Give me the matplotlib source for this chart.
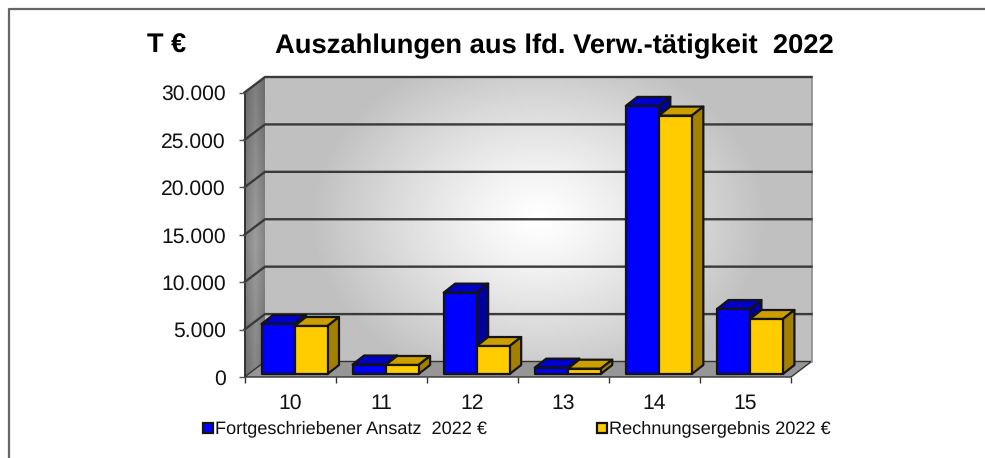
#!/usr/bin/env python3
"""Auszahlungen 2022: faux 3D bar chart drawn on a plain 2D axes."""

import matplotlib
matplotlib.use("Agg")

import matplotlib.pyplot as plt  # noqa: E402
import numpy as np  # noqa: E402
from matplotlib.patches import Polygon, Rectangle  # noqa: E402

categories = ["10", "11", "12", "13", "14", "15"]
ansatz = [5270, 1000, 8580, 670, 28270, 6850]
ergebnis = [5060, 950, 2950, 560, 27250, 5800]
y_ticks = [0, 5000, 10000, 15000, 20000, 25000, 30000]
y_labels = ["0", "5.000", "10.000", "15.000", "20.000", "25.000", "30.000"]

W, H = 985, 458
# front plane of the chart in pixels
LEFT, RIGHT, TOP, BOTTOM = 244.5, 791.0, 92.5, 377.0
PX_X = 6 / (RIGHT - LEFT)
PX_Y = 30000 / (BOTTOM - TOP)

# depth offsets, pixels converted to data units
WALL_DX, WALL_DY = 20.5 * PX_X, 15.5 * PX_Y
BASE_DX, BASE_DY = 0.5 * PX_X, 3.0 * PX_Y
BAR_DX, BAR_DY = 11.5 * PX_X, 9.0 * PX_Y
BAR_W = 33 * PX_X
BAR_START = 16.5 * PX_X

EDGE = "#141414"
BLUE = ("#0000ff", "#0000c8", "#00009c")
YELLOW = ("#ffcc00", "#cc9f00", "#a38000")

plt.rcParams["font.family"] = ["Liberation Sans", "DejaVu Sans"]
plt.rcParams["text.hinting"] = "no_hinting"


def wall_gradient(inner, outer, cx, cy, nx=220, ny=120):
    xx, yy = np.meshgrid(np.linspace(0, 1, nx), np.linspace(1, 0, ny))
    dist = np.clip(np.hypot((xx - cx) / 0.42, (yy - cy) / 0.62), 0, 1)
    return inner + (outer - inner) * dist ** 1.2


def draw_walls(ax, fig):
    # back wall
    ax.imshow(wall_gradient(1.0, 0.75, 0.5, 0.5), cmap="gray", vmin=0, vmax=1,
              extent=(WALL_DX, 6 + WALL_DX, WALL_DY, 30000 + WALL_DY),
              aspect="auto", zorder=1, clip_on=False, interpolation="bilinear")
    # left wall, lighter around the middle
    side = Polygon([(0, 0), (WALL_DX, WALL_DY), (WALL_DX, 30000 + WALL_DY), (0, 30000)],
                   closed=True, transform=ax.transData, fc="none", ec="none")
    ax.add_patch(side)
    ys = np.linspace(1, 0, 100)
    shade = 0.50 + 0.12 * (1 - np.abs(ys - 0.45) / 0.55)
    xs = 1 - 0.18 * np.abs(np.linspace(-1, 1, 30))
    img = ax.imshow(np.outer(shade, xs), cmap="gray", vmin=0, vmax=1,
                    extent=(0, WALL_DX, 0, 30000 + WALL_DY),
                    aspect="auto", zorder=1.1, interpolation="bilinear")
    img.set_clip_path(side)
    img.set_clip_box(fig.bbox)
    # floor
    ax.add_patch(Polygon([(0, 0), (6, 0), (6 + WALL_DX, WALL_DY), (WALL_DX, WALL_DY)],
                         closed=True, fc="#969696", ec="#333333", lw=1.0, zorder=1.2,
                         clip_on=False))
    # right edge of the back wall
    ax.plot([6 + WALL_DX, 6 + WALL_DX], [30000 + WALL_DY, WALL_DY],
            color="#8c8c8c", lw=1.2, zorder=1.3, clip_on=False)
    ax.plot([0, 0], [0, 30000], color="#333333", lw=1.4, zorder=1.4, clip_on=False)
    # grid on both walls
    for v in y_ticks[1:]:
        ax.plot([0, WALL_DX, 6 + WALL_DX], [v, v + WALL_DY, v + WALL_DY],
                color="#3a3a3a", lw=1.7, zorder=1.5, clip_on=False)


def draw_bar(ax, x, value, colors, zorder):
    x0, y0 = x + BASE_DX, BASE_DY
    x1, y1 = x0 + BAR_W, y0 + value
    style = dict(ec=EDGE, lw=1.6, joinstyle="round", zorder=zorder, clip_on=False)
    ax.add_patch(Polygon([(x0, y1), (x1, y1), (x1 + BAR_DX, y1 + BAR_DY), (x0 + BAR_DX, y1 + BAR_DY)],
                         closed=True, fc=colors[1], **style))
    ax.add_patch(Polygon([(x1, y0), (x1 + BAR_DX, y0 + BAR_DY), (x1 + BAR_DX, y1 + BAR_DY), (x1, y1)],
                         closed=True, fc=colors[2], **style))
    ax.add_patch(Rectangle((x0, y0), BAR_W, value, fc=colors[0], **style))


def main():
    fig = plt.figure(figsize=(W / 100, H / 100), dpi=100, facecolor="white")
    ax = fig.add_axes([LEFT / W, 1 - BOTTOM / H, (RIGHT - LEFT) / W, (BOTTOM - TOP) / H])
    ax.patch.set_visible(False)
    for spine in ax.spines.values():
        spine.set_visible(False)

    draw_walls(ax, fig)
    ax.set_xlim(0, 6)
    ax.set_ylim(0, 30000)

    for i in range(len(categories)):
        left = i + BAR_START
        draw_bar(ax, left, ansatz[i], BLUE, 3 + i)
        draw_bar(ax, left + BAR_W, ergebnis[i], YELLOW, 3.5 + i)

    ax.set_yticks(y_ticks, y_labels, fontsize=15.2, color="#111111")
    ax.tick_params(axis="y", length=4.5, width=1.0, color="#555555", pad=9)
    ax.set_xticks(range(7), [""] * 7)
    ax.tick_params(axis="x", which="major", length=4.5, width=1.0, color="#333333")
    ax.set_xticks(np.arange(6) + 0.5, categories, minor=True, fontsize=15.2, color="#111111")
    ax.tick_params(axis="x", which="minor", length=0, pad=23)
    # baseline alignment keeps 11 and 10 on one line
    for label in ax.get_xticklabels(minor=True):
        label.set_verticalalignment("baseline")

    # frame: only top and left are inside the picture
    fig.add_artist(plt.Line2D([9 / W, 9 / W, 1], [0, 1 - 9 / H, 1 - 9 / H],
                              color="#666666", lw=1.6, transform=fig.transFigure))

    fig.text(167 / W, 1 - 46 / H, "T €", fontsize=19.5, fontweight="bold",
             ha="center", va="center")
    fig.text(554 / W, 1 - 46 / H, "Auszahlungen aus lfd. Verw.-tätigkeit  2022",
             fontsize=19.7, fontweight="bold", ha="center", va="center")

    for x, color, label in [(208, BLUE[0], "Fortgeschriebener Ansatz  2022 €"),
                            (602, YELLOW[0], "Rechnungsergebnis 2022 €")]:
        fig.add_artist(Rectangle(((x - 5) / W, 1 - (434 - 1) / H), 10 / W, 10 / H, fc=color,
                                 ec=EDGE, lw=1.6, transform=fig.transFigure))
        fig.text((x + 7) / W, 1 - 429 / H, label, fontsize=13.05, ha="left", va="center",
                 color="#111111")

    fig.savefig("out.png", dpi=100)


if __name__ == "__main__":
    main()
